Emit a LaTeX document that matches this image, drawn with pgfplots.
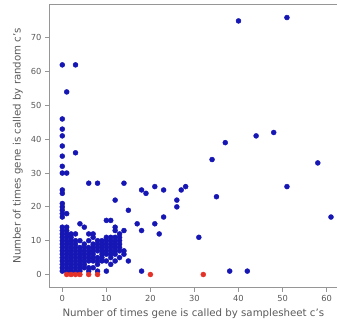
\documentclass[border=0pt]{standalone}
\usepackage{pgfplots}
\pgfplotsset{compat=1.18}
\usetikzlibrary{calc}
\usepackage{fontspec}
\setmainfont{DejaVu Sans}
\definecolor{ptblue}{RGB}{22,22,180}
\definecolor{ptred}{RGB}{228,50,40}
\definecolor{txt}{RGB}{90,90,90}
\definecolor{spine}{RGB}{150,150,150}
\begin{document}
\begin{tikzpicture}
\begin{axis}[
  name=ax,
  scale only axis,
  width=288pt, height=283pt,
  xmin=-3, xmax=62.5, ymin=-3.85, ymax=80,
  xtick={0,10,20,30,40,50,60},
  ytick={0,10,20,30,40,50,60,70},
  tick align=outside,
  tick pos=left,
  major tick length=4pt,
  axis line style={spine, line width=1pt},
  tick style={spine, line width=0.8pt},
  every tick label/.append style={font=\fontsize{8.3}{9}\selectfont, text=txt},
  /pgf/number format/assume math mode=true,
  xlabel={Number of times gene is called by samplesheet c's},
  ylabel={Number of times gene is called by random c's},
  label style={font=\fontsize{10.2}{11}\selectfont, text=txt},
  xlabel style={at={(axis description cs:0.5,-0.092)}, anchor=center},
  ylabel style={at={(axis description cs:-0.108,0.5)}, anchor=center},
]
\addplot[only marks, mark=*, mark size=2.5pt, ptblue, mark options={draw=ptblue, fill=ptblue}] coordinates {
(40,75) (51,76) (0,62) (3,62) (1,54) (0,46) (0,43) (0,41) (0,38) (0,35) (0,32) (0,30) (1,30) (3,36)
(0,25) (0,24) (0,21) (0,20) (0,19) (0,18) (0,17) (1,18)
(6,27) (8,27) (14,27) (12,22) (15,19) (18,25) (19,24) (21,26) (23,25) (26,22) (26,20) (27,25) (28,26)
(23,17) (21,15) (22,12) (17,15) (18,13) (31,11) (34,34) (37,39) (35,23) (44,41) (48,42) (58,33) (51,26) (61,17)
(38,1) (42,1) (18,1) (10,1) (14,13) (12,14)
(0,1) (0,2) (0,3) (0,4) (0,5) (0,6) (0,7) (0,8) (0,9) (0,10) (0,11) (0,12) (0,13) (0,14)
(1,1) (1,2) (1,3) (1,4) (1,5) (1,6) (1,7) (1,8) (1,9) (1,10) (1,11) (1,12) (1,13) (1,14)
(2,1) (2,2) (2,3) (2,4) (2,5) (2,6) (2,7) (2,8) (2,9) (2,10) (2,11) (2,12)
(3,1) (3,2) (3,3) (3,4) (3,5) (3,6) (3,7) (3,8) (3,9) (3,10) (3,12)
(4,1) (4,2) (4,3) (4,4) (4,5) (4,6) (4,7) (4,8) (4,10) (4,15)
(5,2) (5,3) (5,4) (5,5) (5,6) (5,7) (5,8) (5,9) (5,14)
(6,1) (6,2) (6,4) (6,5) (6,6) (6,7) (6,8) (6,10) (6,12)
(7,2) (7,4) (7,5) (7,6) (7,7) (7,8) (7,9) (7,11) (7,12)
(8,1) (8,3) (8,4) (8,5) (8,7) (8,8) (8,9) (8,10)
(9,4) (9,5) (9,6) (9,7) (9,8) (9,9) (9,10)
(10,4) (10,6) (10,7) (10,8) (10,9) (10,10) (10,11) (10,16)
(11,3) (11,5) (11,6) (11,7) (11,8) (11,9) (11,10) (11,11) (11,16)
(12,4) (12,6) (12,7) (12,8) (12,9) (12,10) (12,11) (12,13)
(13,5) (13,7) (13,8) (13,9) (13,10) (13,11) (13,12)
(14,6) (14,7) (15,4)
};
\addplot[only marks, mark=*, mark size=2.5pt, ptred, mark options={draw=ptred, fill=ptred}] coordinates {
(1,0) (2,0) (3,0) (4,0) (6,0) (8,0) (20,0) (32,0)
};
\end{axis}
\pgfresetboundingbox
\path ($(ax.south west)+(-49pt,-41pt)$) rectangle ($(ax.north east)+(-0.6pt,4pt)$);
\end{tikzpicture}
\end{document}
